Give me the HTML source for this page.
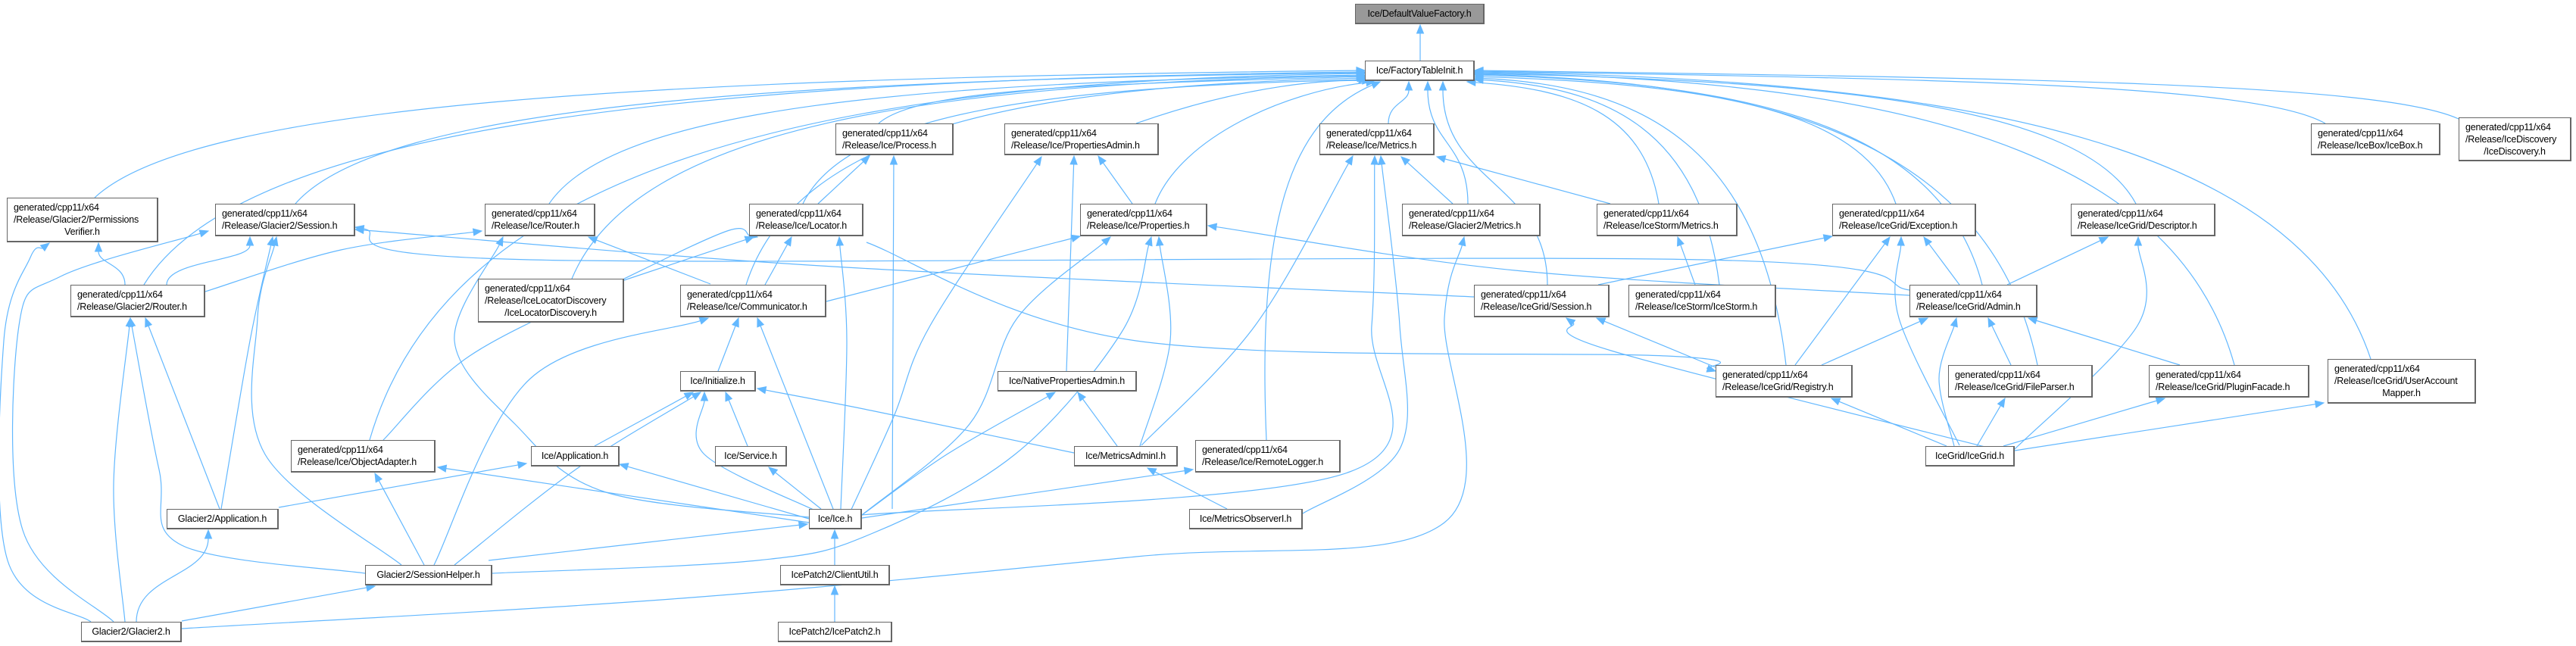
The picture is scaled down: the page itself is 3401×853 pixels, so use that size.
<!DOCTYPE html>
<html><head><meta charset="utf-8">
<style>
html,body{margin:0;padding:0;background:#fff;}
#w{position:relative;width:3401px;height:853px;overflow:hidden;background:#fff;}
svg{position:absolute;left:0;top:0;}
.n{position:absolute;box-sizing:border-box;border:1px solid #666;border-right-width:2px;border-bottom-width:2px;background:#fff;font-family:"Liberation Sans",sans-serif;font-size:12.5px;line-height:16px;color:#000;display:flex;flex-direction:column;justify-content:center;padding:0 8px;white-space:nowrap;letter-spacing:-0.2px;}
.n.c{text-align:center;}
.n span.m{text-align:center;display:block;}
.root{background:#999;}
</style></head><body>
<div id="w">
<svg id="s" width="3401" height="853" viewBox="0 0 3401 853"></svg>
<div class="n c root" style="left:1789px;top:5px;width:171px;height:27px">Ice/DefaultValueFactory.h</div>
<div class="n c" style="left:1802px;top:80px;width:145px;height:27px">Ice/FactoryTableInit.h</div>
<div class="n" style="left:9px;top:261px;width:200px;height:59px">generated/cpp11/x64<br>/Release/Glacier2/Permissions<span class="m">Verifier.h</span></div>
<div class="n" style="left:284px;top:269px;width:185px;height:43px">generated/cpp11/x64<br>/Release/Glacier2/Session.h</div>
<div class="n" style="left:640px;top:269px;width:146px;height:43px">generated/cpp11/x64<br>/Release/Ice/Router.h</div>
<div class="n" style="left:989px;top:269px;width:151px;height:43px">generated/cpp11/x64<br>/Release/Ice/Locator.h</div>
<div class="n" style="left:1103px;top:163px;width:156px;height:42px">generated/cpp11/x64<br>/Release/Ice/Process.h</div>
<div class="n" style="left:1326px;top:163px;width:204px;height:42px">generated/cpp11/x64<br>/Release/Ice/PropertiesAdmin.h</div>
<div class="n" style="left:1426px;top:269px;width:168px;height:43px">generated/cpp11/x64<br>/Release/Ice/Properties.h</div>
<div class="n" style="left:1742px;top:163px;width:152px;height:42px">generated/cpp11/x64<br>/Release/Ice/Metrics.h</div>
<div class="n" style="left:1851px;top:269px;width:183px;height:43px">generated/cpp11/x64<br>/Release/Glacier2/Metrics.h</div>
<div class="n" style="left:2108px;top:269px;width:186px;height:43px">generated/cpp11/x64<br>/Release/IceStorm/Metrics.h</div>
<div class="n" style="left:2419px;top:269px;width:190px;height:43px">generated/cpp11/x64<br>/Release/IceGrid/Exception.h</div>
<div class="n" style="left:2734px;top:269px;width:191px;height:43px">generated/cpp11/x64<br>/Release/IceGrid/Descriptor.h</div>
<div class="n" style="left:3051px;top:163px;width:171px;height:42px">generated/cpp11/x64<br>/Release/IceBox/IceBox.h</div>
<div class="n" style="left:3246px;top:155px;width:149px;height:58px">generated/cpp11/x64<br>/Release/IceDiscovery<span class="m">/IceDiscovery.h</span></div>
<div class="n" style="left:93px;top:376px;width:178px;height:43px">generated/cpp11/x64<br>/Release/Glacier2/Router.h</div>
<div class="n" style="left:631px;top:368px;width:193px;height:58px">generated/cpp11/x64<br>/Release/IceLocatorDiscovery<span class="m">/IceLocatorDiscovery.h</span></div>
<div class="n" style="left:898px;top:376px;width:193px;height:43px">generated/cpp11/x64<br>/Release/Ice/Communicator.h</div>
<div class="n" style="left:1946px;top:376px;width:179px;height:43px">generated/cpp11/x64<br>/Release/IceGrid/Session.h</div>
<div class="n" style="left:2150px;top:376px;width:195px;height:43px">generated/cpp11/x64<br>/Release/IceStorm/IceStorm.h</div>
<div class="n" style="left:2521px;top:376px;width:169px;height:43px">generated/cpp11/x64<br>/Release/IceGrid/Admin.h</div>
<div class="n" style="left:2265px;top:482px;width:181px;height:43px">generated/cpp11/x64<br>/Release/IceGrid/Registry.h</div>
<div class="n" style="left:2572px;top:482px;width:191px;height:43px">generated/cpp11/x64<br>/Release/IceGrid/FileParser.h</div>
<div class="n" style="left:2837px;top:482px;width:212px;height:43px">generated/cpp11/x64<br>/Release/IceGrid/PluginFacade.h</div>
<div class="n" style="left:3073px;top:474px;width:196px;height:59px">generated/cpp11/x64<br>/Release/IceGrid/UserAccount<span class="m">Mapper.h</span></div>
<div class="n c" style="left:2542px;top:589px;width:118px;height:27px">IceGrid/IceGrid.h</div>
<div class="n c" style="left:898px;top:490px;width:100px;height:27px">Ice/Initialize.h</div>
<div class="n c" style="left:1317px;top:490px;width:184px;height:27px">Ice/NativePropertiesAdmin.h</div>
<div class="n" style="left:384px;top:581px;width:191px;height:43px">generated/cpp11/x64<br>/Release/Ice/ObjectAdapter.h</div>
<div class="n c" style="left:701px;top:589px;width:117px;height:27px">Ice/Application.h</div>
<div class="n c" style="left:944px;top:589px;width:95px;height:27px">Ice/Service.h</div>
<div class="n c" style="left:1418px;top:589px;width:137px;height:27px">Ice/MetricsAdminI.h</div>
<div class="n" style="left:1578px;top:581px;width:192px;height:43px">generated/cpp11/x64<br>/Release/Ice/RemoteLogger.h</div>
<div class="n c" style="left:220px;top:672px;width:148px;height:27px">Glacier2/Application.h</div>
<div class="n c" style="left:1068px;top:672px;width:70px;height:27px">Ice/Ice.h</div>
<div class="n c" style="left:1570px;top:672px;width:150px;height:27px">Ice/MetricsObserverI.h</div>
<div class="n c" style="left:482px;top:746px;width:168px;height:27px">Glacier2/SessionHelper.h</div>
<div class="n c" style="left:1030px;top:746px;width:145px;height:27px">IcePatch2/ClientUtil.h</div>
<div class="n c" style="left:107px;top:821px;width:133px;height:27px">Glacier2/Glacier2.h</div>
<div class="n c" style="left:1027px;top:821px;width:151px;height:27px">IcePatch2/IcePatch2.h</div>
</div>
<script>
(function(){
var s=document.getElementById('s'),NS='http://www.w3.org/2000/svg',C='#63b8ff',out='';
function arrow(px,py,tx,ty){var dx=tx-px,dy=ty-py,l=Math.sqrt(dx*dx+dy*dy)||1;dx/=l;dy/=l;var L=11,W=4.5;
var bx=tx-dx*L,by=ty-dy*L;out+='<polygon points="'+tx+','+ty+' '+(bx-dy*W)+','+(by+dx*W)+' '+(bx+dy*W)+','+(by-dx*W)+'" fill="'+C+'" stroke="'+C+'"/>';return [bx,by];}
function cub(sx,sy,c1x,c1y,c2x,c2y,ex,ey){var b=arrow(c2x,c2y,ex,ey);out+='<path d="M'+sx+','+sy+' C'+c1x+','+c1y+' '+c2x+','+c2y+' '+b[0]+','+b[1]+'" fill="none" stroke="'+C+'" stroke-width="1.2"/>';}
function v(sx,sy,ex,ey){var m=(sy+ey)/2;cub(sx,sy,sx,m,ex,m,ex,ey);}
function cr(p){var n=p.length,b=arrow(p[n-2][0],p[n-2][1],p[n-1][0],p[n-1][1]);p=p.slice();p[n-1]=b;
var d='M'+p[0][0]+','+p[0][1];for(var i=0;i<n-1;i++){var p0=p[i-1]||p[i],p1=p[i],p2=p[i+1],p3=p[i+2]||p2;
d+=' C'+(p1[0]+(p2[0]-p0[0])/6)+','+(p1[1]+(p2[1]-p0[1])/6)+' '+(p2[0]-(p3[0]-p1[0])/6)+','+(p2[1]-(p3[1]-p1[1])/6)+' '+p2[0]+','+p2[1];}
out+='<path d="'+d+'" fill="none" stroke="'+C+'" stroke-width="1.2"/>';}
function fti(sx,sy,ex,ey){var dx=ex-sx;cub(sx,sy,sx+dx*0.08,sy-(sy-ey)*0.75,sx+dx*0.45,ey+10,ex,ey);}
v(1875,80,1875,33);
// to FactoryTableInit
fti(125,261,1802,93);fti(190,376,1802,95);fti(390,269,1802,96);fti(488,581,1802,97);
fti(725,269,1802,99);fti(755,368,1802,100);fti(985,376,1803,103);fti(1060,269,1805,105);
fti(1160,163,1803,101);
cub(1500,163,1650,110,1760,105,1810,107);
cub(1525,269,1560,180,1700,120,1815,108);
cub(1672,581,1660,300,1700,160,1822,108);
v(1833,163,1860,108);v(1938,269,1885,108);v(2043,376,1905,108);
fti(2190,269,1937,108);fti(2270,376,1947,105);fti(2503,269,1947,101);fti(2617,376,1947,99);
fti(2358,482,1947,103);fti(2690,482,1947,98);fti(2820,269,1947,97);fti(2950,482,1947,96);
fti(3130,474,1947,95);fti(3070,163,1947,94);fti(3246,157,1947,93);
// Glacier2
v(165,376,130,321);v(220,376,330,313);cr([[271,385],[450,330],[636,305]]);
cr([[120,821],[10,740],[5,450],[40,340],[65,321]]);
cr([[150,821],[30,700],[25,430],[80,365],[275,305]]);
cr([[165,821],[150,640],[172,420]]);
v(180,821,275,700);cr([[240,820],[495,774]]);
cr([[240,830],[900,790],[1500,735],[1907,690],[1907,420],[1933,313]]);
cr([[292,672],[330,450],[360,313]]);cr([[290,672],[192,420]]);cr([[368,670],[695,612]]);
cr([[530,746],[350,600],[340,420],[365,313]]);
cr([[482,757],[240,720],[210,620],[172,420]]);
cr([[560,746],[495,625]]);cr([[573,746],[700,500],[935,420]]);
cr([[600,746],[760,620],[925,518]]);cr([[645,740],[1066,692]]);
cr([[650,757],[1000,740],[1150,705],[1340,600],[1480,440],[1520,313]]);
// Ice
cr([[938,375],[777,313]]);
cr([[1068,683],[800,650],[680,560],[600,450],[664,313]]);
cr([[824,370],[995,313]]);
cr([[506,581],[620,470],[820,370],[960,305],[1000,313]]);
cr([[1010,376],[1045,313]]);cr([[1110,672],[1118,450],[1108,313]]);
cr([[1144,320],[1500,450],[2200,470],[2265,490]]);
cr([[1080,269],[1148,206]]);cr([[1178,672],[1180,206]]);
cr([[1495,269],[1450,206]]);cr([[1408,490],[1418,206]]);
cr([[1122,677],[1180,550],[1228,430],[1375,207]]);
cr([[1091,398],[1426,312]]);
cr([[1138,680],[1280,560],[1343,420],[1466,313]]);
cr([[1505,589],[1545,450],[1530,313]]);
cr([[2521,390],[2000,357],[1595,298]]);
cr([[948,490],[975,420]]);cr([[1100,672],[1000,420]]);
cr([[1946,392],[1100,352],[469,303]]);
cr([[2521,383],[2250,343],[700,343],[469,300]]);
cr([[1507,588],[1657,430],[1786,206]]);
cr([[1137,680],[1782,623],[1811,430],[1815,206]]);
cr([[1720,678],[1848,593],[1848,430],[1823,206]]);
cr([[1918,269],[1850,207]]);cr([[2126,269],[1897,207]]);cr([[2238,376],[2215,313]]);
cr([[1475,589],[1423,518]]);cr([[1138,680],[1250,600],[1393,518]]);
cr([[1620,672],[1515,618]]);cr([[1138,684],[1575,620]]);
cr([[1418,598],[1150,542],[1000,513]]);
cr([[785,589],[915,518]]);cr([[987,589],[958,518]]);
cr([[1078,675],[930,600],[930,518]]);
cr([[1068,685],[818,613]]);cr([[1068,690],[578,617]]);cr([[1084,672],[1015,617]]);
v(1102,746,1102,700);v(1102,821,1102,774);
// IceGrid
cr([[2110,376],[2419,312]]);cr([[2370,482],[2495,313]]);
cr([[2587,588],[2507,420],[2510,313]]);cr([[2587,376],[2540,313]]);
cr([[2650,376],[2783,313]]);cr([[2660,593],[2822,430],[2823,313]]);
cr([[2660,600],[2127,463],[2068,420]]);cr([[2265,485],[2108,420]]);
cr([[2405,482],[2545,420]]);cr([[2570,589],[2418,526]]);
cr([[2580,589],[2560,500],[2583,420]]);
cr([[2655,482],[2625,420]]);cr([[2878,482],[2678,420]]);
cr([[2610,589],[2647,526]]);cr([[2645,589],[2858,526]]);cr([[2660,595],[3068,532]]);
s.innerHTML=out;
})();
</script>
</body></html>
